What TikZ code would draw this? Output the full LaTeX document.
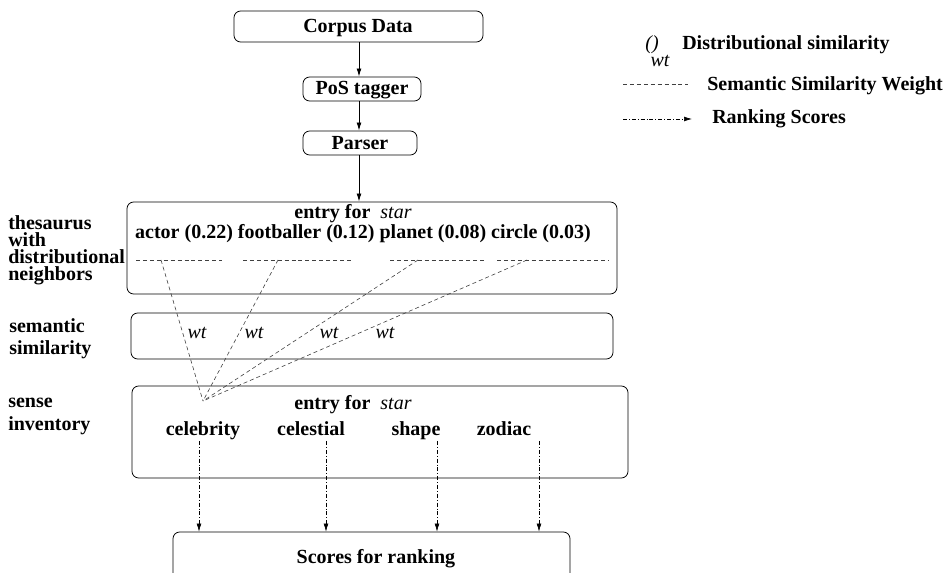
\documentclass[tikz,border=0pt]{standalone}
\usepackage{fontspec}
\setmainfont{Liberation Serif}
\usetikzlibrary{arrows.meta,fit}
\begin{document}
\begin{tikzpicture}[x=0.75pt,y=-0.75pt,
  box/.style={draw, rounded corners=5pt, line width=0.6pt, inner sep=0pt},
  txt/.style={inner sep=0pt, anchor=base, font=\fontsize{15}{13}\selectfont\bfseries},
  itx/.style={inner sep=0pt, anchor=base, font=\fontsize{15}{13}\selectfont\itshape},
  side/.style={inner sep=0pt, anchor=base west, font=\fontsize{15}{13}\selectfont\bfseries},
  arr/.style={line width=0.6pt, -{Latex[length=6pt,width=3.6pt]}},
  dsh/.style={line width=0.45pt, black!75, dash pattern=on 3pt off 2.2pt},
  dd/.style={line width=0.45pt, dash pattern=on 3pt off 1.5pt on 0.6pt off 1.5pt, -{Latex[length=6pt,width=3.6pt]}}
]
\clip (0,0) rectangle (951,573);

% main column boxes
\node[box, fit={(234,11) (483,42)}] (corpus) {};
\node[box, fit={(303,77) (421,101)}] (pos) {};
\node[box, fit={(303,131) (417,155)}] (parser) {};
\node[box, fit={(127,202) (617,294)}] (thes) {};
\node[box, fit={(131,313) (613,359)}] (sem) {};
\node[box, fit={(132,386) (628,478)}] (sense) {};
\node[box, fit={(173,532) (570,610)}] (scores) {};

\node[txt] (tcorpus) at (358,33) {Corpus Data};
\node[txt] (tpos) at (362,95) {PoS tagger};
\node[txt] (tparser) at (360,150) {Parser};

\coordinate (ax) at (359,0);
\draw[arr] (corpus.south -| ax) -- (pos.north -| ax);
\draw[arr] (pos.south -| ax) -- (parser.north -| ax);
\draw[arr] (parser.south -| ax) -- (thes.north -| ax);

% thesaurus contents
\node[txt] (entry1) at (353,219) {entry for\ \ \textmd{\itshape star}};
\node[txt] (row) at (363,239) {actor (0.22) footballer (0.12) planet (0.08) circle (0.03)};
\draw[dsh] (136,260) -- (222,260);
\draw[dsh] (243,260) -- (352,260);
\draw[dsh] (390,260) -- (487,260);
\draw[dsh] (497,260) -- (608,260);

\coordinate (d1) at (161,260);
\coordinate (d2) at (278,260);
\coordinate (d3) at (418,260);
\coordinate (d4) at (527,260);
\coordinate (cv) at (203,401);
\draw[dsh] (d1) -- (cv);
\draw[dsh] (d2) -- (cv);
\draw[dsh] (d3) -- (cv);
\draw[dsh] (d4) -- (cv);

% semantic similarity weights
\node[itx] (w1) at (197,339) {wt};
\node[itx] (w2) at (254,339) {wt};
\node[itx] (w3) at (329,339) {wt};
\node[itx] (w4) at (385,339) {wt};

% sense inventory
\node[txt] (entry2) at (353,410) {entry for\ \ \textmd{\itshape star}};
\node[txt] (celeb) at (203,436) {celebrity};
\node[txt] (celes) at (311,436) {celestial};
\node[txt] (shape) at (416,436) {shape};
\node[txt] (zod) at (504,436) {zodiac};

\coordinate (a1) at (199,441);
\coordinate (a2) at (326,441);
\coordinate (a3) at (437,441);
\coordinate (a4) at (539,441);
\draw[dd] (a1) -- (a1 |- scores.north);
\draw[dd] (a2) -- (a2 |- scores.north);
\draw[dd] (a3) -- (a3 |- scores.north);
\draw[dd] (a4) -- (a4 |- scores.north);

\node[txt] (sc) at (376,564) {Scores for ranking};

% side labels
\node[side] (l1a) at (8,230) {thesaurus};
\node[side] (l1b) at (8,247) {with};
\node[side] (l1c) at (8,264) {distributional};
\node[side] (l1d) at (8,281) {neighbors};
\node[side] (l2a) at (9,333) {semantic};
\node[side] (l2b) at (9,355) {similarity};
\node[side] (l3a) at (8,408) {sense};
\node[side] (l3b) at (8,431) {inventory};

% legend
\node[itx] (lp) at (652,50) {()};
\node[txt, anchor=base west] (lt1) at (682,50) {Distributional similarity};
\node[itx] (lw) at (660,67) {wt};
\coordinate (ls1) at (623,84);
\coordinate (le1) at (688,84);
\draw[dsh] (ls1) -- (le1);
\node[txt, anchor=base west] (lt2) at (707,91) {Semantic Similarity Weight};
\coordinate (ls2) at (623,119);
\coordinate (le2) at (692,119);
\draw[dd] (ls2) -- (le2);
\node[txt, anchor=base west] (lt3) at (712,124) {Ranking Scores};
\end{tikzpicture}
\end{document}
